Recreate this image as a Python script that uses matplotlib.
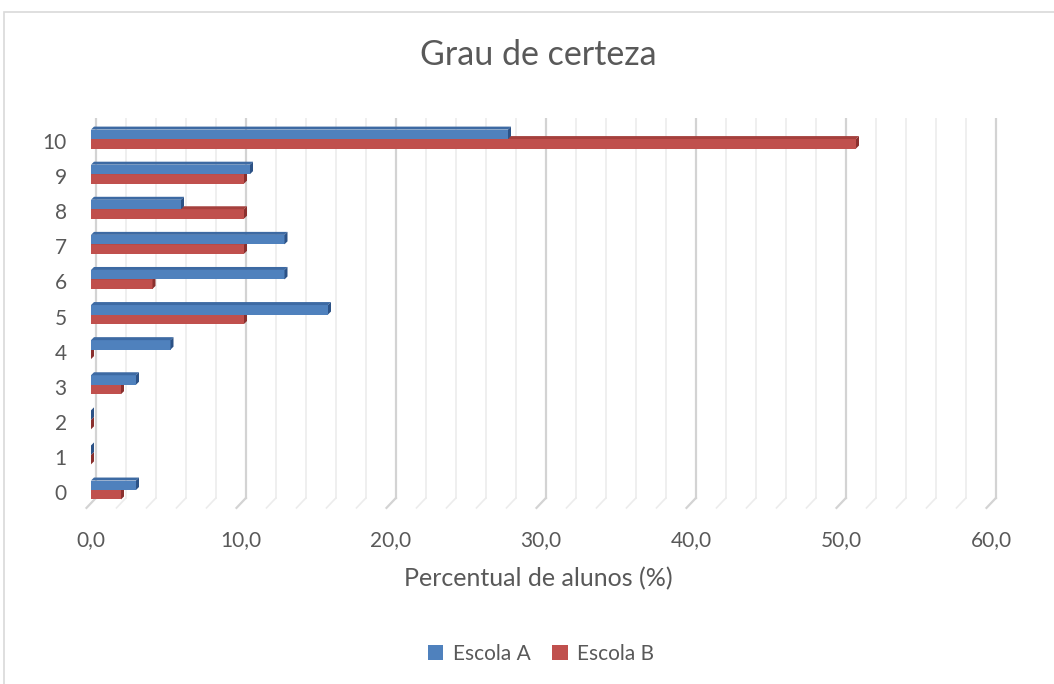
import matplotlib.pyplot as plt
from matplotlib.patches import Polygon, Rectangle, Patch
from matplotlib.transforms import ScaledTranslation

plt.rcParams['font.family'] = ['Lato', 'DejaVu Sans']

categorias = [0, 1, 2, 3, 4, 5, 6, 7, 8, 9, 10]
escola_a = [3.0, 0.0, 0.0, 3.0, 5.3, 15.8, 12.9, 12.9, 6.0, 10.6, 27.8]
escola_b = [2.0, 0.0, 0.0, 2.0, 0.0, 10.2, 4.1, 10.2, 10.2, 10.2, 51.0]
xticks = [0, 10, 20, 30, 40, 50, 60]

W, H = 1054, 684
cinza = '#595959'
cor_a, topo_a, lado_a = '#4f81bd', '#3d6aa3', '#2c5286'
cor_b, topo_b, lado_b = '#c0504d', '#a5403d', '#8a302e'

fig = plt.figure(figsize=(W / 100, H / 100), dpi=100)
fig.patches.append(Rectangle((4 / W, -0.1), 1.2, 1 - 12 / H + 0.1,
                             transform=fig.transFigure, fill=False,
                             edgecolor='#d9d9d9', lw=1.2))

ax = fig.add_axes([82 / W, 1 - 512 / H, 918 / W, 394 / H])
ax.set_xlim(-0.6, 60.6)
ax.set_ylim(-0.627, 10.6)
for s in ax.spines.values():
    s.set_visible(False)

# parede do fundo + chao (efeito 3D)
for v in range(0, 61, 2):
    c = '#d3d3d3' if v % 10 == 0 else '#ececec'
    lw = 1.6 if v % 10 == 0 else 1.2
    ax.plot([v + 0.32, v + 0.32], [10.6, -0.23], color=c, lw=lw, zorder=1)
    ax.plot([v + 0.32, v - 0.3], [-0.23, -0.51], color=c, lw=lw, zorder=1)

h = 0.27
dx, dy = 0.2, 0.085


def barra3d(y0, v, face, topo, lado, z):
    ax.add_patch(Rectangle((0, y0), v, h, facecolor=face, edgecolor='none', zorder=z))
    ax.add_patch(Polygon([(0, y0 + h), (v, y0 + h), (v + dx, y0 + h + dy), (dx, y0 + h + dy)],
                         closed=True, facecolor=topo, edgecolor='none', zorder=z))
    ax.add_patch(Polygon([(v, y0), (v + dx, y0 + dy), (v + dx, y0 + h + dy), (v, y0 + h)],
                         closed=True, facecolor=lado, edgecolor='none', zorder=z))


for i, cat in enumerate(categorias):
    barra3d(cat - h, escola_b[i], cor_b, topo_b, lado_b, 3 + 2 * i)
    barra3d(cat, escola_a[i], cor_a, topo_a, lado_a, 4 + 2 * i)

ax.set_xticks(xticks)
ax.set_xticklabels([f'{v:.1f}'.replace('.', ',') for v in xticks])
ax.set_yticks(categorias)
ax.set_yticklabels([str(c) for c in categorias])
ax.tick_params(axis='x', length=0, pad=13, labelsize=15, labelcolor=cinza)
ax.tick_params(axis='y', length=0, pad=11, labelsize=15, labelcolor=cinza)
desloc = ScaledTranslation(0, -2 / 100, fig.dpi_scale_trans)
for lab in ax.get_yticklabels():
    lab.set_transform(lab.get_transform() + desloc)

fig.text(538 / W, 1 - 55 / H, 'Grau de certeza', ha='center', va='center',
         fontsize=24.5, color=cinza)
fig.text(538 / W, 1 - 579 / H, 'Percentual de alunos (%)', ha='center', va='center',
         fontsize=18, color=cinza)

handles = [Patch(facecolor=cor_a, label='Escola A'), Patch(facecolor=cor_b, label='Escola B')]
fig.legend(handles=handles, loc='center', bbox_to_anchor=(541 / W, 1 - 654 / H), ncol=2,
           frameon=False, fontsize=15, labelcolor=cinza, handlelength=0.75,
           handleheight=0.75, handletextpad=0.45, columnspacing=1.05)

fig.savefig('out.png', dpi=100, facecolor='white')
